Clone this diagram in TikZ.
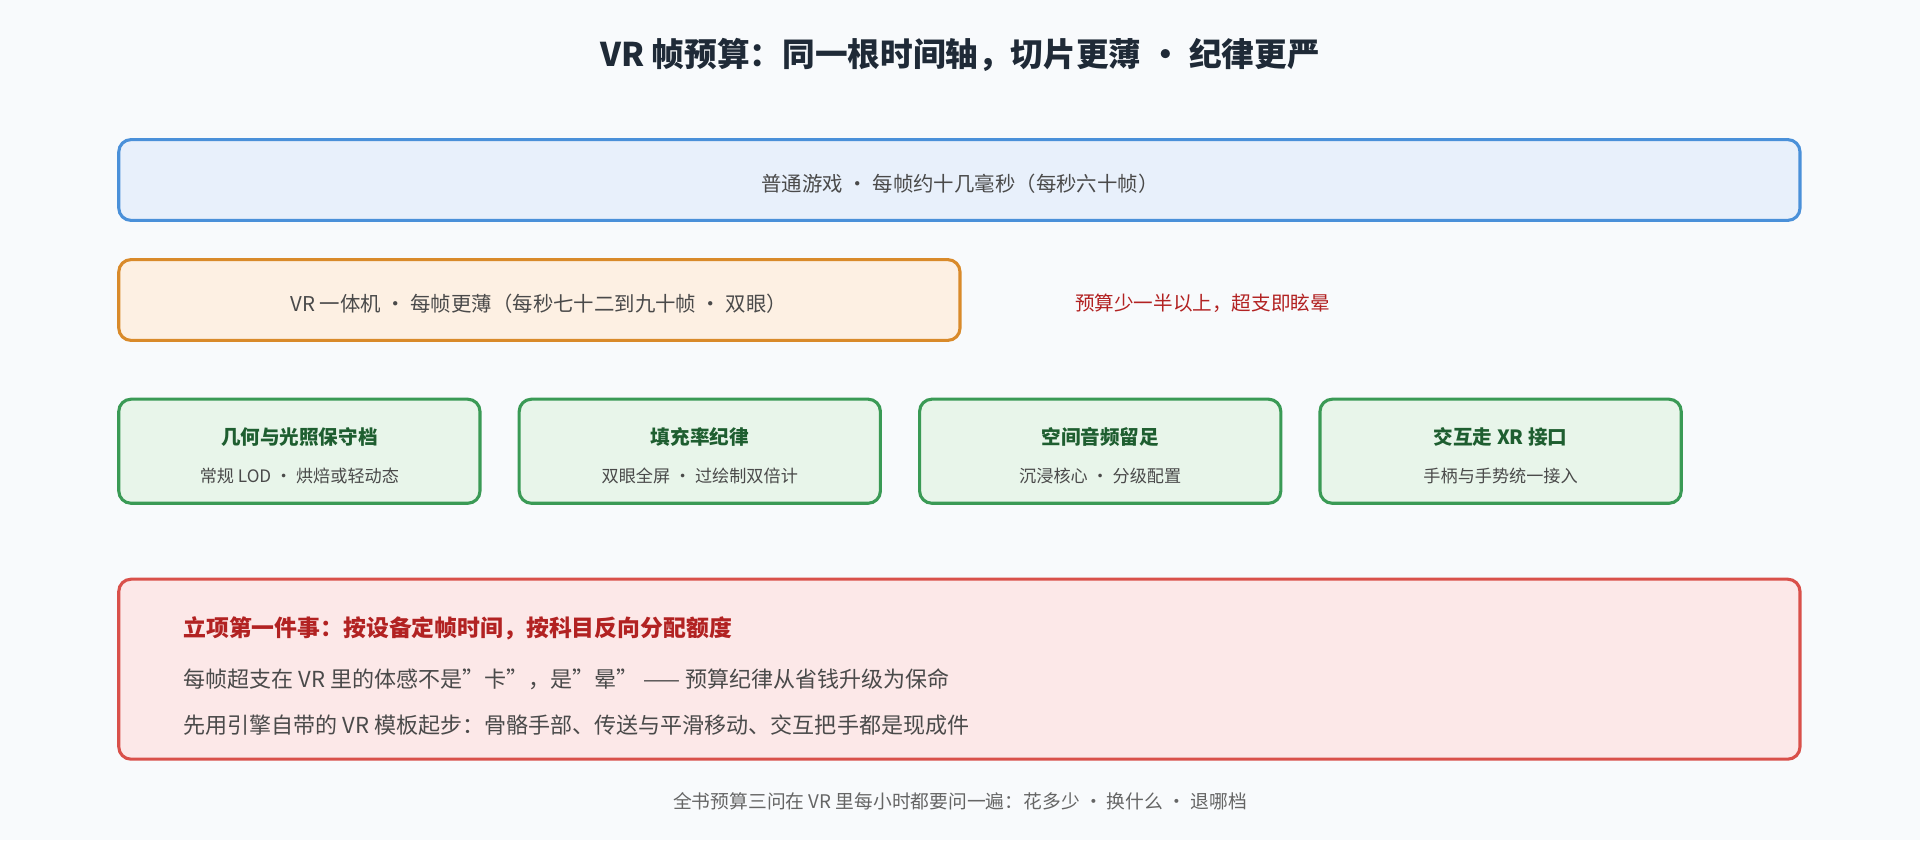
\documentclass[tikz,border=0pt]{standalone}
\usepackage{fontspec}
\setmainfont{Noto Sans CJK SC}
\definecolor{bg}{HTML}{F8FAFC}
\definecolor{titlec}{HTML}{1F2A37}
\definecolor{txt}{HTML}{4A4A4A}
\definecolor{bluef}{HTML}{E8F0FB}\definecolor{blued}{HTML}{4A90D9}
\definecolor{orf}{HTML}{FDF0E3}\definecolor{ord}{HTML}{D98A2A}
\definecolor{grf}{HTML}{E8F5EA}\definecolor{grd}{HTML}{3A9A55}\definecolor{grt}{HTML}{1E5E30}
\definecolor{rdf}{HTML}{FCE8E8}\definecolor{rdd}{HTML}{D9504A}\definecolor{rdt}{HTML}{B22222}
\begin{document}
\begin{tikzpicture}[x=0.75pt,y=-0.75pt,
  box/.style={rounded corners=7.5pt,line width=1.9pt},
  body/.style={font=\fontsize{12.5}{15}\selectfont,text=txt},
  gt/.style={font=\bfseries\fontsize{12}{14}\selectfont,text=grt},
  gs/.style={font=\fontsize{10.5}{13}\selectfont,text=txt}]
\fill[bg] (0,0) rectangle (1568,686);
\useasboundingbox (0,0) rectangle (1568,686);
\node[font=\bfseries\fontsize{20}{24}\selectfont,text=titlec] (title) at (784,45) {VR 帧预算：同一根时间轴，切片更薄 • 纪律更严};
\draw[box,fill=bluef,draw=blued] (97,114) rectangle (1470,180);
\node[body] (pc) at (784,150) {普通游戏 · 每帧约十几毫秒（每秒六十帧）};
\draw[box,fill=orf,draw=ord] (97,212) rectangle (784,278);
\node[body] (vr) at (440,248) {VR 一体机 · 每帧更薄（每秒七十二到九十帧 · 双眼）};
\node[font=\fontsize{12}{14}\selectfont,text=rdt] (warn) at (982,248) {预算少一半以上，超支即眩晕};
\foreach \x/\t/\s [count=\i] in {97/几何与光照保守档/常规 LOD · 烘焙或轻动态,424/填充率纪律/双眼全屏 · 过绘制双倍计,751/空间音频留足/沉浸核心 · 分级配置,1078/交互走 XR 接口/手柄与手势统一接入}{
  \draw[box,fill=grf,draw=grd] (\x,326) rectangle (\x+295,411);
  \node[gt] (g\i) at (\x+147.5,357) {\t};
  \node[gs] (s\i) at (\x+147.5,389) {\s};
}
\draw[box,fill=rdf,draw=rdd] (97,473) rectangle (1470,620);
\node[anchor=west,font=\bfseries\fontsize{14}{17}\selectfont,text=rdt] (r1) at (145,513) {立项第一件事：按设备定帧时间，按科目反向分配额度};
\node[anchor=west,body,font=\fontsize{13.5}{16}\selectfont] (r2) at (145,555) {每帧超支在 VR 里的体感不是"卡"，是"晕" —— 预算纪律从省钱升级为保命};
\node[anchor=west,body,font=\fontsize{13.5}{16}\selectfont] (r3) at (145,592) {先用引擎自带的 VR 模板起步：骨骼手部、传送与平滑移动、交互把手都是现成件};
\node[font=\fontsize{11.5}{14}\selectfont,text=txt!85] (foot) at (784,654) {全书预算三问在 VR 里每小时都要问一遍：花多少 · 换什么 · 退哪档};
\end{tikzpicture}
\end{document}
